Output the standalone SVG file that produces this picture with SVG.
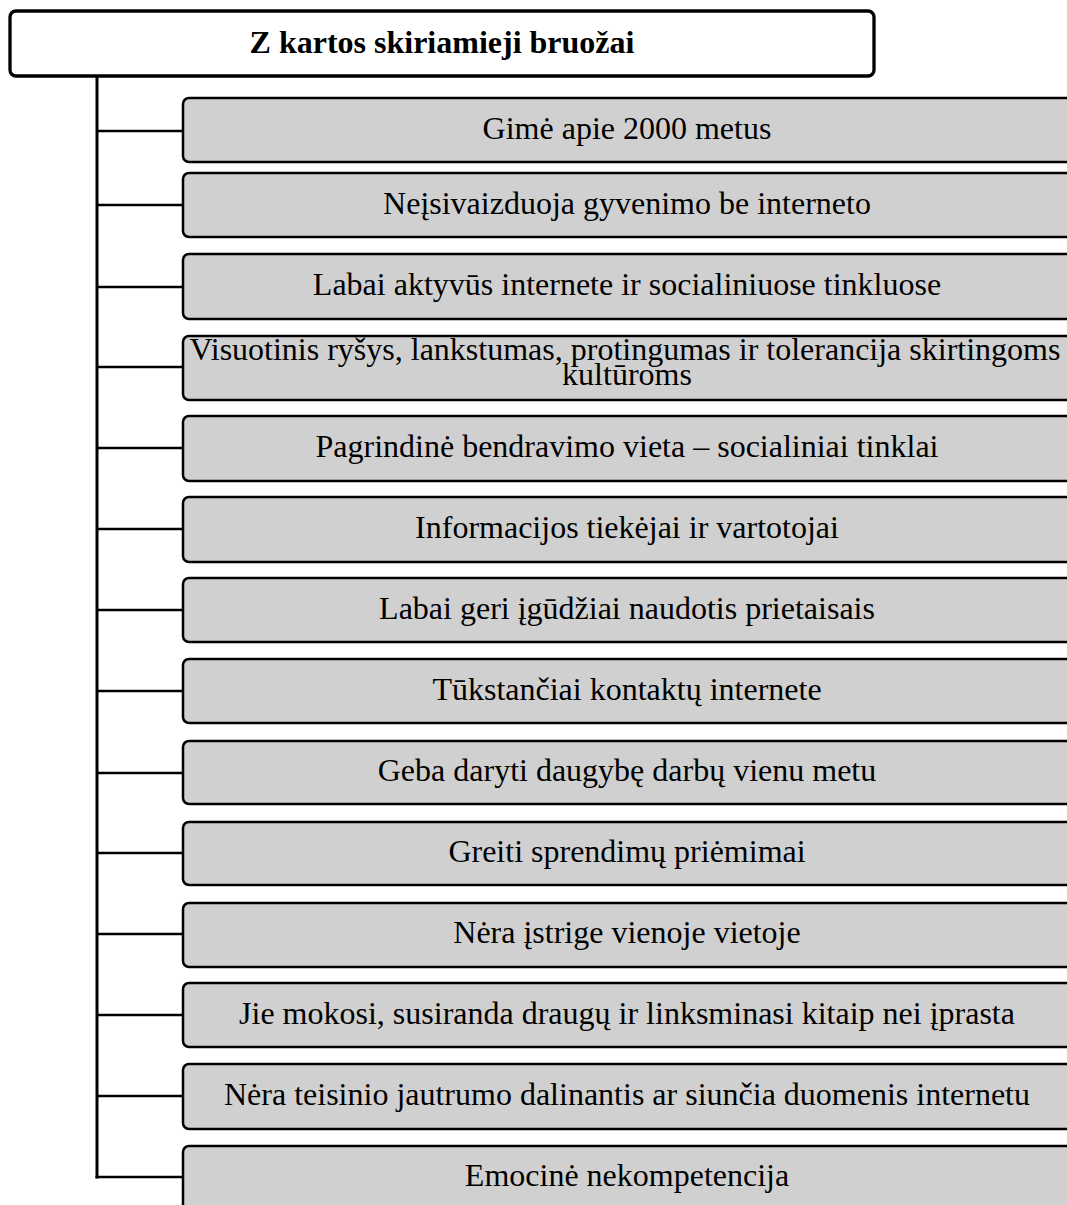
<svg xmlns="http://www.w3.org/2000/svg" width="1067" height="1205" viewBox="0 0 1067 1205">
  <style>
    .title-box { fill: #ffffff; stroke: #000000; stroke-width: 3.3; }
    .item-box { fill: #d0d0d0; stroke: #000000; stroke-width: 2.5; }
    .title-text { font-family: "Liberation Serif", "Times New Roman", serif; font-size: 32px; font-weight: bold; fill: #000000; text-anchor: middle; }
    .item-text { font-family: "Liberation Serif", "Times New Roman", serif; font-size: 32px; fill: #000000; text-anchor: middle; }
    .trunk { stroke: #000000; stroke-width: 3; fill: none; }
    .branch { stroke: #000000; stroke-width: 2.5; fill: none; }
  </style>

  <rect width="1067" height="1205" fill="#ffffff"/>

  <!-- tree connectors: trunk down from the header, one branch per item -->
  <g id="connectors">
    <line class="trunk" x1="97" y1="76" x2="97" y2="1178.5"/>
    <line class="branch" x1="97" y1="131" x2="183" y2="131"/>
    <line class="branch" x1="97" y1="205" x2="183" y2="205"/>
    <line class="branch" x1="97" y1="287" x2="183" y2="287"/>
    <line class="branch" x1="97" y1="367" x2="183" y2="367"/>
    <line class="branch" x1="97" y1="448" x2="183" y2="448"/>
    <line class="branch" x1="97" y1="529" x2="183" y2="529"/>
    <line class="branch" x1="97" y1="610" x2="183" y2="610"/>
    <line class="branch" x1="97" y1="691" x2="183" y2="691"/>
    <line class="branch" x1="97" y1="773" x2="183" y2="773"/>
    <line class="branch" x1="97" y1="853" x2="183" y2="853"/>
    <line class="branch" x1="97" y1="934" x2="183" y2="934"/>
    <line class="branch" x1="97" y1="1015" x2="183" y2="1015"/>
    <line class="branch" x1="97" y1="1096" x2="183" y2="1096"/>
    <line class="branch" x1="95.5" y1="1177" x2="183" y2="1177"/>
  </g>

  <g id="header">
    <rect class="title-box" x="10" y="11" width="864" height="65" rx="6"/>
    <text class="title-text" x="442" y="53">Z kartos skiriamieji bruožai</text>
  </g>

  <g id="item-01">
    <rect class="item-box" x="183" y="98" width="890" height="64" rx="6"/>
    <text class="item-text" x="627" y="139">Gimė apie 2000 metus</text>
  </g>
  <g id="item-02">
    <rect class="item-box" x="183" y="173" width="890" height="64" rx="6"/>
    <text class="item-text" x="627" y="214">Neįsivaizduoja gyvenimo be interneto</text>
  </g>
  <g id="item-03">
    <rect class="item-box" x="183" y="254" width="890" height="65" rx="6"/>
    <text class="item-text" x="627" y="295">Labai aktyvūs internete ir socialiniuose tinkluose</text>
  </g>
  <g id="item-04">
    <rect class="item-box" x="183" y="336" width="890" height="64" rx="6"/>
    <text class="item-text" x="625" y="360">Visuotinis ryšys, lankstumas, protingumas ir tolerancija skirtingoms</text>
    <text class="item-text" x="627" y="385">kultūroms</text>
  </g>
  <g id="item-05">
    <rect class="item-box" x="183" y="416" width="890" height="65" rx="6"/>
    <text class="item-text" x="627" y="457">Pagrindinė bendravimo vieta – socialiniai tinklai</text>
  </g>
  <g id="item-06">
    <rect class="item-box" x="183" y="497" width="890" height="65" rx="6"/>
    <text class="item-text" x="627" y="538">Informacijos tiekėjai ir vartotojai</text>
  </g>
  <g id="item-07">
    <rect class="item-box" x="183" y="578" width="890" height="64" rx="6"/>
    <text class="item-text" x="627" y="619">Labai geri įgūdžiai naudotis prietaisais</text>
  </g>
  <g id="item-08">
    <rect class="item-box" x="183" y="659" width="890" height="64" rx="6"/>
    <text class="item-text" x="627" y="700">Tūkstančiai kontaktų internete</text>
  </g>
  <g id="item-09">
    <rect class="item-box" x="183" y="741" width="890" height="63" rx="6"/>
    <text class="item-text" x="627" y="781">Geba daryti daugybę darbų vienu metu</text>
  </g>
  <g id="item-10">
    <rect class="item-box" x="183" y="822" width="890" height="63" rx="6"/>
    <text class="item-text" x="627" y="862">Greiti sprendimų priėmimai</text>
  </g>
  <g id="item-11">
    <rect class="item-box" x="183" y="903" width="890" height="64" rx="6"/>
    <text class="item-text" x="627" y="943">Nėra įstrige vienoje vietoje</text>
  </g>
  <g id="item-12">
    <rect class="item-box" x="183" y="983" width="890" height="64" rx="6"/>
    <text class="item-text" x="627" y="1024">Jie mokosi, susiranda draugų ir linksminasi kitaip nei įprasta</text>
  </g>
  <g id="item-13">
    <rect class="item-box" x="183" y="1064" width="890" height="65" rx="6"/>
    <text class="item-text" x="627" y="1105">Nėra teisinio jautrumo dalinantis ar siunčia duomenis internetu</text>
  </g>
  <g id="item-14">
    <rect class="item-box" x="183" y="1146" width="890" height="64" rx="6"/>
    <text class="item-text" x="627" y="1186">Emocinė nekompetencija</text>
  </g>
</svg>
